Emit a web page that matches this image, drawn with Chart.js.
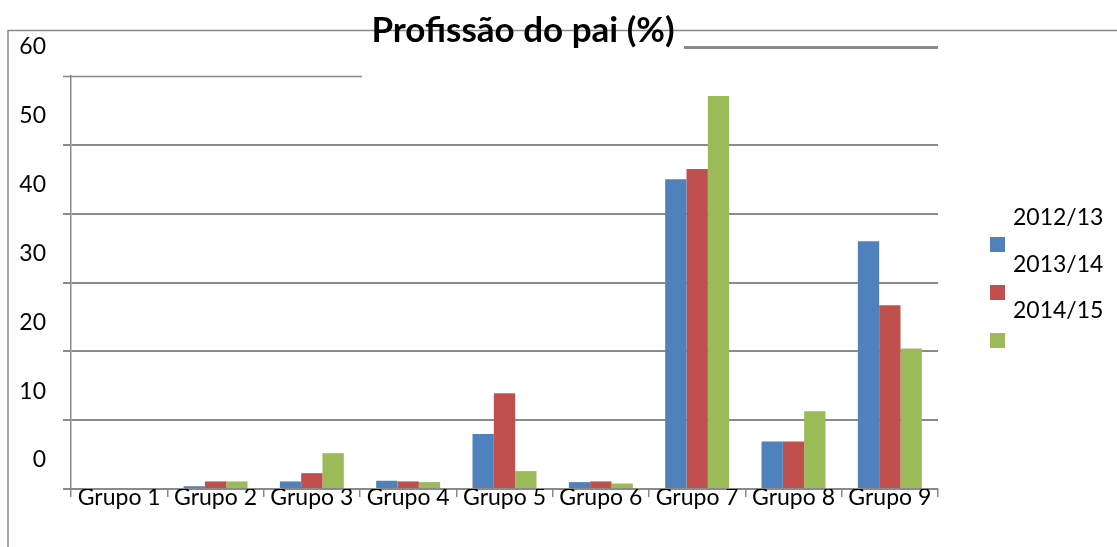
<!DOCTYPE html>
<html>
<head>
<meta charset="utf-8">
<script src="https://cdn.jsdelivr.net/npm/chart.js@4/dist/chart.umd.min.js"></script>
<style>
html,body{margin:0;padding:0;background:#fff;}
#wrap{width:1117px;height:547px;position:relative;}
</style>
</head>
<body>
<div id="wrap"><canvas id="c" width="1117" height="547"></canvas></div>
<script>
const chartTitle = "Profissão do pai (%)";
const categories = ["Grupo 1","Grupo 2","Grupo 3","Grupo 4","Grupo 5","Grupo 6","Grupo 7","Grupo 8","Grupo 9"];
const seriesNames = ["2012/13","2013/14","2014/15"];
const values2012 = [0, 0.4, 1.1, 1.2, 8.0, 1.0, 45.0, 6.9, 36.0];
const values2013 = [0, 1.1, 2.3, 1.1, 13.9, 1.1, 46.5, 6.9, 26.7];
const values2014 = [0, 1.1, 5.2, 1.0, 2.6, 0.8, 57.1, 11.3, 20.4];
const yTicks = [0, 10, 20, 30, 40, 50, 60];
const colors = ["#4F81BD","#C0504D","#9BBB59"];

const FONT = "Lato, 'DejaVu Sans', sans-serif";
const GRID = "#8a8a8a";

const decor = {
  id: 'decor',
  beforeDraw(chart) {
    const ctx = chart.ctx;
    ctx.save();
    ctx.fillStyle = '#fff';
    ctx.fillRect(0, 0, chart.width, chart.height);
    // outer frame (top + left)
    ctx.strokeStyle = GRID;
    ctx.lineWidth = 1.5;
    ctx.beginPath();
    ctx.moveTo(8, 547);
    ctx.lineTo(8, 30.5);
    ctx.lineTo(1117, 30.5);
    ctx.stroke();
    ctx.restore();
  },
  afterDraw(chart) {
    const ctx = chart.ctx;
    const ca = chart.chartArea;
    const y = chart.scales.y;
    ctx.save();
    // partial top gridline (60)
    const y60 = Math.round(y.getPixelForValue(yTicks[yTicks.length - 1])) + 0.5;
    ctx.strokeStyle = GRID;
    ctx.lineWidth = 1.5;
    ctx.beginPath();
    ctx.moveTo(ca.left - 8, y60);
    ctx.lineTo(362, y60);
    ctx.stroke();
    // displaced line next to title
    ctx.lineWidth = 3;
    ctx.beginPath();
    ctx.moveTo(684, 47.5);
    ctx.lineTo(ca.right, 47.5);
    ctx.stroke();
    // title
    ctx.fillStyle = '#000';
    ctx.font = "bold 35px " + FONT;
    ctx.textAlign = 'center';
    ctx.textBaseline = 'alphabetic';
    ctx.fillText(chartTitle, 523, 42);
    // legend (boxes and texts offset as in the reference)
    ctx.font = "23px " + FONT;
    ctx.textAlign = 'left';
    ctx.textBaseline = 'middle';
    chart.data.datasets.forEach((ds, i) => {
      ctx.fillStyle = ds.backgroundColor;
      ctx.fillRect(990, 237 + 48 * i, 15, 15);
      ctx.fillStyle = '#000';
      ctx.fillText(ds.label, 1013, 218 + 46.5 * i);
    });
    ctx.restore();
  }
};

new Chart(document.getElementById('c'), {
  type: 'bar',
  data: {
    labels: categories,
    datasets: [
      {label: seriesNames[0], data: values2012, backgroundColor: colors[0]},
      {label: seriesNames[1], data: values2013, backgroundColor: colors[1]},
      {label: seriesNames[2], data: values2014, backgroundColor: colors[2]}
    ]
  },
  options: {
    responsive: false,
    animation: false,
    devicePixelRatio: 1,
    layout: {padding: {top: 76, right: 179, left: 0, bottom: 0}},
    datasets: {bar: {categoryPercentage: 0.664, barPercentage: 1.0, borderWidth: 0}},
    plugins: {
      legend: {display: false},
      title: {display: false},
      tooltip: {enabled: false}
    },
    scales: {
      x: {
        grid: {drawOnChartArea: false, drawTicks: true, tickLength: 8, offset: true, color: GRID, lineWidth: 1.5},
        border: {display: true, color: GRID, width: 2},
        ticks: {color: '#000', font: {family: FONT, size: 23}, padding: -13, maxRotation: 0, autoSkip: false},
        afterFit(scale) { scale.height = 58; }
      },
      y: {
        min: 0, max: 60,
        afterBuildTicks(scale) { scale.ticks = yTicks.map(v => ({value: v})); },
        grid: {
          color: (c) => (c.tick && c.tick.value === 60) ? 'rgba(0,0,0,0)' : GRID,
          lineWidth: 2, tickLength: 8, drawTicks: true
        },
        border: {display: true, color: GRID, width: 1.5},
        ticks: {color: '#000', font: {family: FONT, size: 23}, padding: 17, labelOffset: -29},
        afterFit(scale) { scale.width = 71; }
      }
    }
  },
  plugins: [decor]
});
</script>
</body>
</html>
